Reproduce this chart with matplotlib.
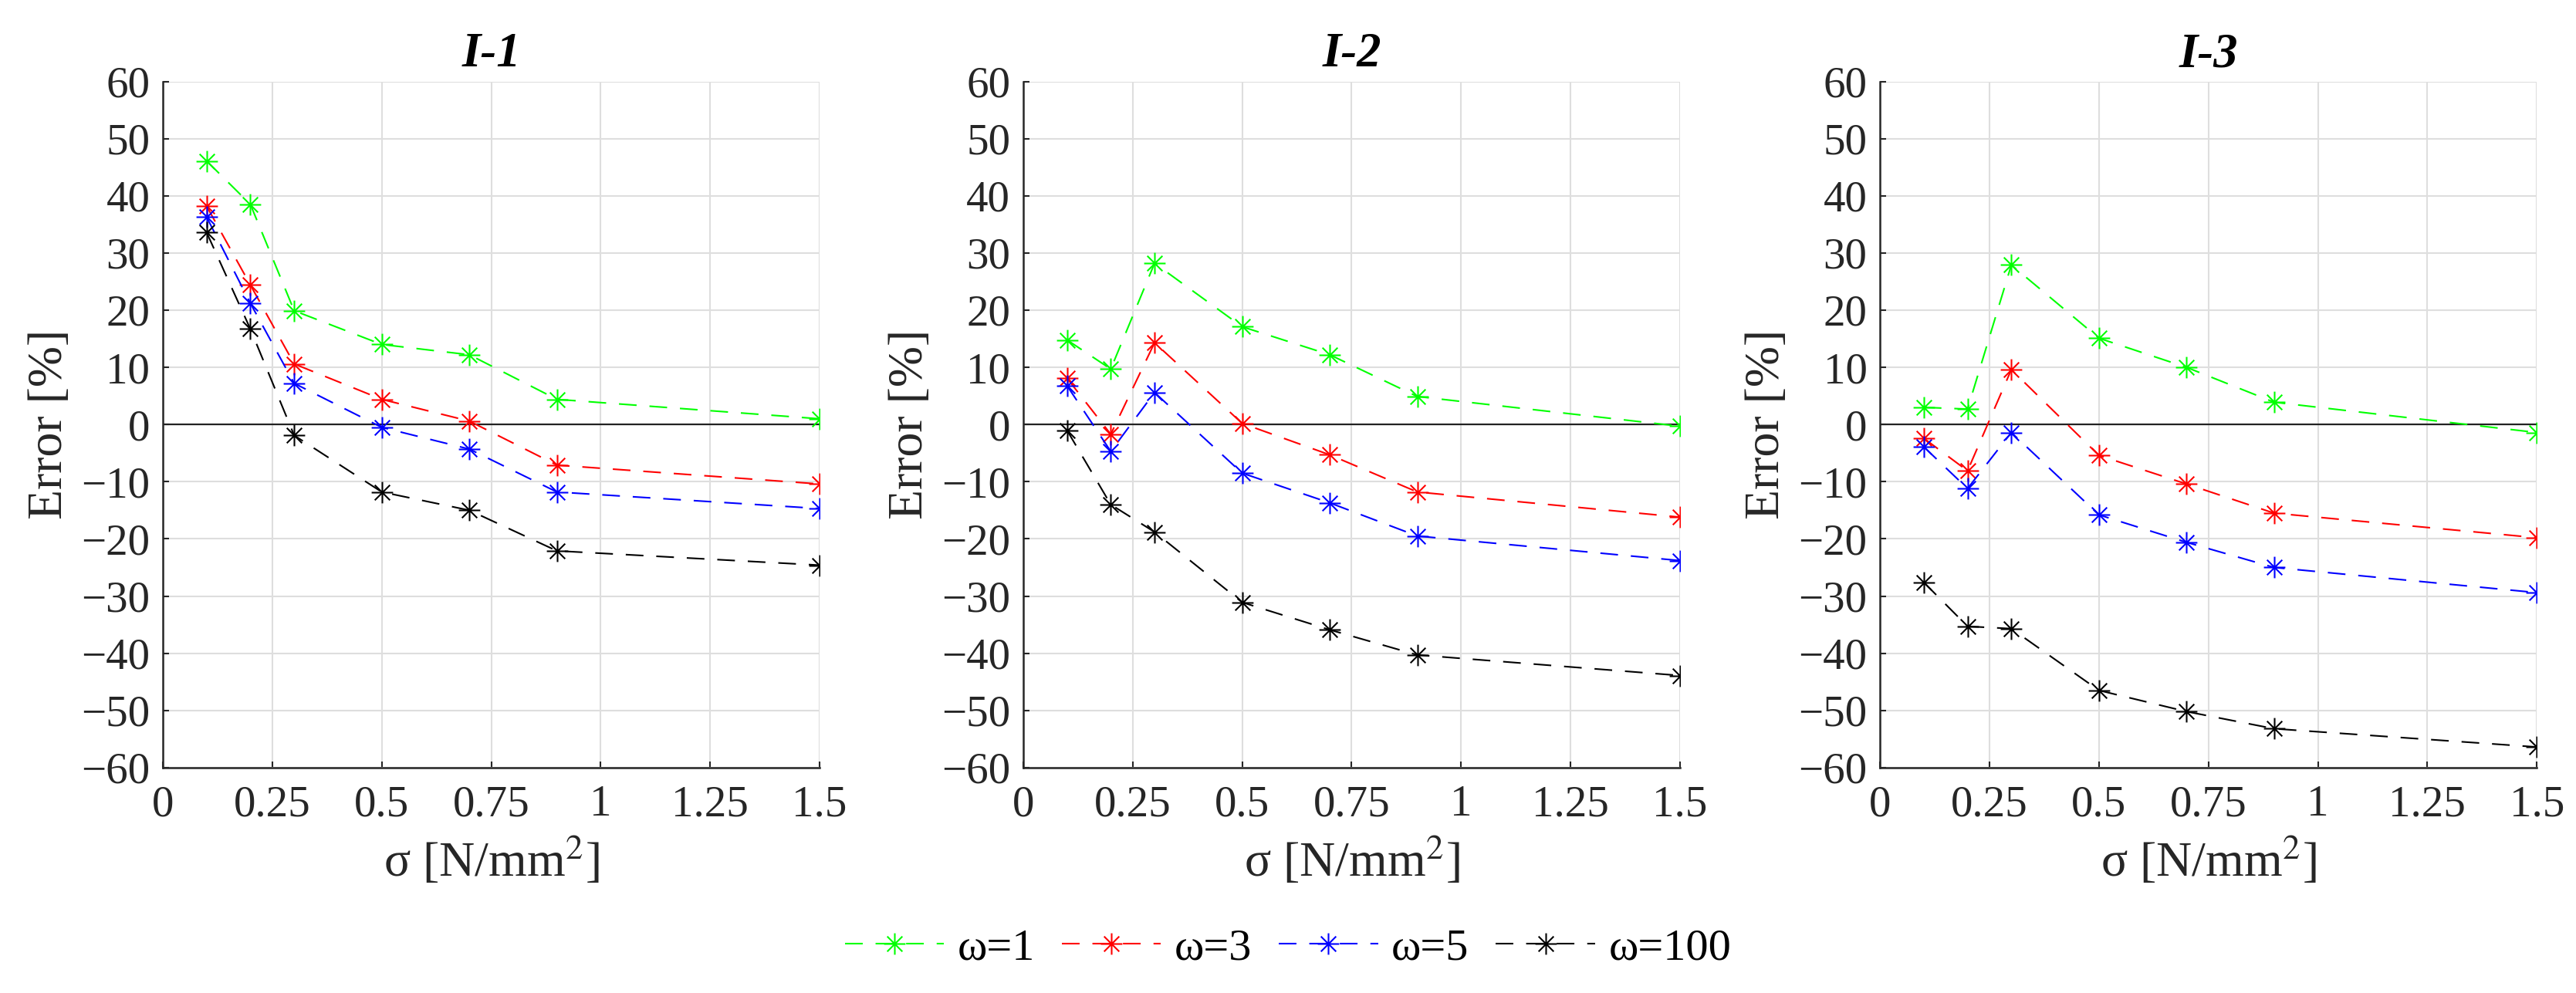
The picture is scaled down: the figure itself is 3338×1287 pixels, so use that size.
import matplotlib
matplotlib.use('Agg')
import numpy as np
import matplotlib.pyplot as plt
from matplotlib.path import Path

plt.rcParams['font.family'] = ['Liberation Serif', 'DejaVu Serif']
plt.rcParams['mathtext.fontset'] = 'stix'

sigma = [0.1, 0.2, 0.3, 0.5, 0.7, 0.9, 1.5]
titles = ['I-1', 'I-2', 'I-3']
labels = ['ω=1', 'ω=3', 'ω=5', 'ω=100']
colors = ['#00ff00', '#ff0000', '#0000ff', '#000000']

# I-1
i1_w1 = [46.1, 38.5, 19.9, 14.0, 12.2, 4.4, 1.0]
i1_w3 = [38.2, 24.4, 10.6, 4.4, 0.6, -7.1, -10.4]
i1_w5 = [36.3, 21.2, 7.2, -0.5, -4.3, -11.8, -14.7]
i1_w100 = [33.6, 16.7, -1.9, -11.8, -15.0, -22.1, -24.6]
# I-2
i2_w1 = [14.8, 9.7, 28.2, 17.1, 12.2, 4.9, -0.3]
i2_w3 = [8.1, -1.7, 14.3, 0.2, -5.3, -11.8, -16.2]
i2_w5 = [6.8, -4.7, 5.6, -8.5, -13.7, -19.5, -23.8]
i2_w100 = [-1.0, -14.0, -18.8, -31.1, -35.9, -40.3, -43.9]
# I-3
i3_w1 = [3.0, 2.7, 27.9, 15.1, 10.0, 3.9, -1.4]
i3_w3 = [-2.4, -8.1, 9.6, -5.4, -10.4, -15.5, -19.8]
i3_w5 = [-3.9, -11.2, -1.4, -15.8, -20.6, -25.0, -29.4]
i3_w100 = [-27.6, -35.3, -35.7, -46.5, -50.2, -53.2, -56.4]

panels = [[i1_w1, i1_w3, i1_w5, i1_w100],
          [i2_w1, i2_w3, i2_w5, i2_w100],
          [i3_w1, i3_w3, i3_w5, i3_w100]]

xticks = [0, 0.25, 0.5, 0.75, 1, 1.25, 1.5]
xticklabels = ['0', '0.25', '0.5', '0.75', '1', '1.25', '1.5']
yticks = list(range(-60, 61, 10))

# matlab style asterisk: 8 spokes
verts, codes = [], []
for a in np.deg2rad([0, 45, 90, 135]):
    c, s = np.cos(a), np.sin(a)
    verts += [(-c, -s), (c, s)]
    codes += [Path.MOVETO, Path.LINETO]
aster = Path(verts, codes)

fig = plt.figure(figsize=(33.38, 12.87), dpi=100)
lefts = [0.0632, 0.3972, 0.7298]
txt = '#262626'
handles = []
for k in range(3):
    ax = fig.add_axes([lefts[k], 0.227, 0.255, 0.691])
    ax.axhline(0, color='#222222', lw=1.6, zorder=1)
    for s, vals in enumerate(panels[k]):
        h, = ax.plot(sigma, vals, ls=(0, (11, 8)), color=colors[s], lw=1.5,
                     marker=aster, markersize=20, markeredgewidth=1.5,
                     markeredgecolor=colors[s], label=labels[s], zorder=3)
        if k == 0:
            handles.append(h)
    ax.set_xlim(0, 1.5)
    ax.set_ylim(-60, 60)
    ax.set_xticks(xticks)
    ax.set_xticklabels(xticklabels)
    ax.set_yticks(yticks)
    ax.grid(True, color='#dedede', lw=1.5)
    ax.set_axisbelow(True)
    for sp in ['top', 'right']:
        ax.spines[sp].set_visible(False)
    for sp in ['left', 'bottom']:
        ax.spines[sp].set_color('#262626')
        ax.spines[sp].set_linewidth(1.8)
    ax.tick_params(direction='in', length=6, width=1.5, labelsize=41,
                   colors=txt, pad=12)
    ax.tick_params(axis='x', pad=16)
    ax.set_title(titles[k], fontsize=45, fontweight='bold', style='italic', pad=14)
    ax.set_ylabel('Error [%]', fontsize=46, color=txt, labelpad=8)
    ax.set_xlabel('σ [N/mm$^2$]', fontsize=46, color=txt, labelpad=10)

fig.legend(handles=handles, loc='center', bbox_to_anchor=(0.5, 0.045), ncol=4,
           frameon=False, fontsize=42, handlelength=2.2, columnspacing=0.6,
           handletextpad=0.3)

fig.savefig('out.png', dpi=100)
